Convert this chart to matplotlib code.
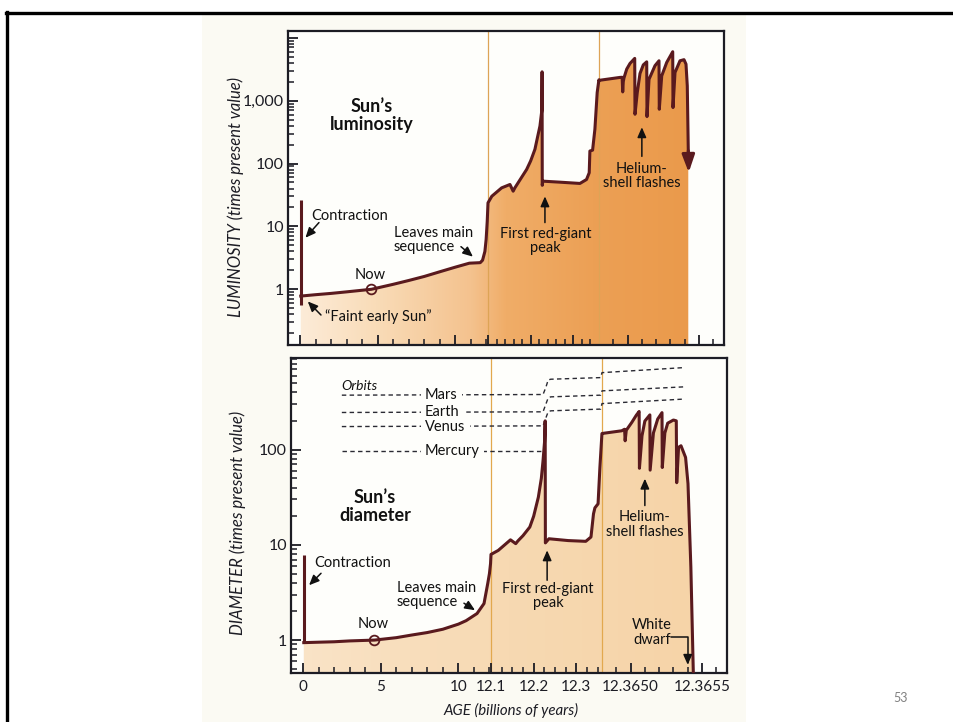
import numpy as np
import matplotlib
matplotlib.use("Agg")
import matplotlib.pyplot as plt
from matplotlib.colors import LinearSegmentedColormap
from matplotlib.patches import Rectangle
from matplotlib.lines import Line2D
from matplotlib.ticker import FixedLocator, FixedFormatter, LogLocator, NullFormatter

plt.rcParams['font.family'] = ['Lato', 'DejaVu Sans']

# ---------------- data ----------------
x_ticks = [0, 5, 10, 12.1, 12.2, 12.3, 12.3650, 12.3655]
x_tick_labels = ['0', '5', '10', '12.1', '12.2', '12.3', '12.3650', '12.3655']

lum_ticks = [1, 10, 100, 1000, 10000]
lum_tick_labels = ['1', '10', '100', '1,000', '']
dia_ticks = [1, 10, 100]
dia_tick_labels = ['1', '10', '100']

contraction_age = 0.05
lum_contraction = [26.0, 0.56]
dia_contraction = [7.9, 0.94]

now_age = 4.6
now_value = 1.0

# Sun's luminosity (times present value) versus age (billions of years)
lum_age = [0.05, 1.0, 2.0, 3.0, 4.6, 6.0, 7.0, 8.0, 9.0, 10.0, 10.9, 11.6, 11.75, 11.9,
           11.98, 12.05, 12.1,
           12.109, 12.132, 12.1515, 12.159, 12.163, 12.175, 12.1906, 12.2, 12.21, 12.216,
           12.2218, 12.2262, 12.2268, 12.2272, 12.2285, 12.2686, 12.3155, 12.331, 12.3373,
           12.3389, 12.3452, 12.3506, 12.356, 12.36,
           12.3648, 12.364947, 12.364962, 12.364966, 12.36497, 12.364975, 12.364994,
           12.365017, 12.36505, 12.365052, 12.365068, 12.365087, 12.36511, 12.365134,
           12.365136, 12.36515, 12.365192, 12.36522, 12.365222, 12.365239, 12.365274,
           12.365316, 12.365318, 12.365332, 12.365367, 12.365395, 12.365409, 12.365418,
           12.365425]
lum_val = [0.78, 0.82, 0.86, 0.91, 1.0, 1.2, 1.38, 1.6, 1.9, 2.25, 2.6, 2.65, 2.9, 4.0,
           6.2, 12.0, 23.7,
           30.2, 41, 46.4, 36.3, 41, 55, 80.5, 110, 168, 260,
           395, 700, 2870, 45, 52.4, 50.5, 48.2, 55.7, 71.3,
           158, 163, 350, 1346, 2140,
           2100, 2340, 2350, 1376, 2000, 2300, 3170,
           3900, 4690, 607, 1350, 2700, 3700, 4140,
           557, 2180, 3600, 4300, 729, 2475, 4050,
           5990, 776, 2800, 4300, 4480, 3800, 1715,
           160]
lum_arrow_tip = 72

# Sun's diameter (times present value) versus age (billions of years)
dia_age = [0.05, 1.0, 2.0, 3.0, 4.6, 6.0, 7.0, 8.0, 9.0, 10.0, 10.5, 11.2, 11.65, 11.89,
           12.0, 12.07, 12.1,
           12.117, 12.1457, 12.158, 12.163, 12.175, 12.191, 12.2, 12.211, 12.218, 12.222,
           12.2255, 12.227, 12.2275, 12.2358, 12.281, 12.3222, 12.3344, 12.3403, 12.3436,
           12.351, 12.3553, 12.36,
           12.3648, 12.364938, 12.364958, 12.364962, 12.36497, 12.365008, 12.36504,
           12.36506, 12.365062, 12.36508, 12.3651, 12.365135, 12.365137, 12.36516,
           12.36519, 12.36522, 12.365222, 12.36524, 12.36526, 12.3653, 12.36532,
           12.365323, 12.365336, 12.365353, 12.365385, 12.365402, 12.365422, 12.365442]
dia_val = [0.94, 0.95, 0.96, 0.98, 1.0, 1.06, 1.13, 1.2, 1.3, 1.47, 1.6, 1.9, 2.42, 3.93,
           5.0, 6.35, 7.94,
           8.75, 11.3, 10.3, 11.0, 12.5, 15.4, 20, 31.7, 50, 76.7,
           120, 201, 10.5, 11.6, 11.1, 10.9, 12.1, 21.2, 24.5,
           27, 65, 146,
           148, 158, 164, 124, 160, 193, 230,
           252, 63.8, 140, 200, 232, 61, 150,
           210, 245, 65, 150, 190, 205, 201,
           45, 106, 110, 83, 44, 5.85, 0.3]

# Planetary orbits (in units of the present solar diameter)
orbit_age = [2.5, 12.222, 12.2285, 12.234, 12.24, 12.357, 12.3648, 12.36537]
mars_orbit = [374, 380, 450, 540, 550, 572, 645, 728]
earth_orbit = [246, 250, 300, 350, 359, 374, 415, 457]
venus_orbit = [175, 178, 215, 250, 256, 267, 305, 340]
mercury_age = [2.5, 12.2225]
mercury_orbit = [97.7, 97.7]
planet_names = ['Mars', 'Earth', 'Venus', 'Mercury']

# ---------------- broken age axis ----------------
AGE_KNOTS = [-0.772, 0.0, 12.1, 12.36, 12.3648, 12.3655, 12.365675]
POS_KNOTS = [0.0, 12.0, 200.0, 310.9, 311.0, 411.0, 436.0]


def age_to_pos(a):
    return np.interp(a, AGE_KNOTS, POS_KNOTS)


def pos_to_age(u):
    return np.interp(u, POS_KNOTS, AGE_KNOTS)


minor_top = ([v for v in range(1, 13)] + list(np.arange(12.12, 12.355, 0.02)) +
             list(np.arange(12.3649, 12.36567, 0.0001)))
minor_bot = ([v for v in range(1, 13)] + list(np.arange(12.125, 12.355, 0.025)) +
             list(np.arange(12.3649, 12.36567, 0.0001)))

MAROON = '#5a1a1e'
INK = '#1c1c24'
PAGE = '#fbfaf3'
PLOT_BG = '#fefefb'

W, H = 954, 722


def fx(px):
    return px / W


def fy(py):
    return 1 - py / H


fig = plt.figure(figsize=(9.54, 7.22), dpi=100)
fig.patch.set_facecolor('white')

# slide frame and page backdrop
fig.add_artist(Rectangle((fx(202), 0), fx(746) - fx(202), fy(15), facecolor=PAGE,
                         edgecolor='none', zorder=-5))
fig.add_artist(Line2D([fx(6), 1], [fy(12.5), fy(12.5)], color='black', lw=2.4, zorder=-4))
fig.add_artist(Line2D([fx(7), fx(7)], [0, fy(12)], color='black', lw=2.4, zorder=-4))

ax1 = fig.add_axes([fx(288), fy(345), (724 - 288) / W, (345 - 31) / H])
ax2 = fig.add_axes([fx(291), fy(673), (727 - 291) / W, (673 - 358) / H])


def style_axes(ax, ylim, yticks, ylabels, minor_x, show_x):
    ax.set_xscale('function', functions=(age_to_pos, pos_to_age))
    ax.set_yscale('log')
    ax.set_facecolor(PLOT_BG)
    ax.xaxis.set_major_locator(FixedLocator(x_ticks))
    ax.xaxis.set_major_formatter(FixedFormatter(x_tick_labels))
    ax.xaxis.set_minor_locator(FixedLocator(minor_x))
    ax.xaxis.set_minor_formatter(NullFormatter())
    ax.yaxis.set_major_locator(FixedLocator(yticks))
    ax.yaxis.set_major_formatter(FixedFormatter(ylabels))
    ax.yaxis.set_minor_locator(LogLocator(base=10, subs=np.arange(2, 10)))
    ax.yaxis.set_minor_formatter(NullFormatter())
    ax.tick_params(which='both', direction='in', color=INK, top=False, right=False)
    ax.tick_params(which='major', length=7, width=1.3)
    ax.tick_params(which='minor', length=4, width=1.1)
    ax.tick_params(axis='x', labelsize=11, labelcolor=INK, pad=5, labelbottom=show_x)
    ax.tick_params(axis='y', labelsize=11.5, labelcolor=INK, pad=3)
    for s in ax.spines.values():
        s.set_color(INK)
        s.set_linewidth(1.6)
    ax.set_xlim(AGE_KNOTS[0], AGE_KNOTS[-1])
    ax.set_ylim(*ylim)


def gradient_fill(ax, x, y, y0, colors):
    coll = ax.fill_between(x, y, y0, facecolor='none', edgecolor='none')
    path = coll.get_paths()[0]
    cmap = LinearSegmentedColormap.from_list('fill', colors)
    grad = np.linspace(0, 1, 512).reshape(1, -1)
    im = ax.imshow(grad, cmap=cmap, aspect='auto', extent=[0, 1, 0, 1],
                   transform=ax.transAxes, interpolation='bilinear', zorder=1)
    im.set_clip_path(path, ax.transData)


ARROW = dict(arrowstyle='-|>,head_length=0.5,head_width=0.22', color='#111111', lw=1.1,
             mutation_scale=12, shrinkA=0, shrinkB=0)
TXT = dict(fontsize=10.5, color='#111')

# ---------------- luminosity panel ----------------
gradient_fill(ax1, lum_age, lum_val, 0.01,
              [(0.0, '#fdeedd'), (0.2, '#f9dcb8'), (0.42, '#f4c28e'), (0.5, '#f0ad68'),
               (0.7, '#eca055'), (1.0, '#ea9848')])
for a in (12.1, 12.3648):
    ax1.axvline(a, color='#dda456', lw=0.9, zorder=1.5)
ax1.plot([contraction_age, contraction_age], lum_contraction, color=MAROON, lw=2.2,
         zorder=3, solid_capstyle='butt')
ax1.plot(lum_age, lum_val, color=MAROON, lw=2.2, zorder=3, solid_joinstyle='round')
ax1.annotate('', xy=(lum_age[-1] + 0.000003, lum_arrow_tip), xytext=(lum_age[-1], lum_val[-1]),
             arrowprops=dict(arrowstyle='-|>,head_length=0.75,head_width=0.27', color=MAROON,
                             lw=2.2, mutation_scale=14, shrinkA=0, shrinkB=0), zorder=3)
ax1.plot([now_age], [now_value], 'o', ms=7, mfc='none', mec=MAROON, mew=1.3, zorder=4)

style_axes(ax1, (0.13, 12800), lum_ticks, lum_tick_labels, minor_top, False)
ax1.set_ylabel('LUMINOSITY (times present value)', fontsize=12, style='italic', color=INK)
ax1.yaxis.set_label_coords(-0.10, 0.47)

ax1.text(4.63, 585, 'Sun’s\nluminosity', ha='center', va='center', fontsize=13,
         fontweight='bold', color='#111', linespacing=1.1)
ax1.text(0.74, 14.9, 'Contraction', ha='left', va='center', **TXT)
ax1.annotate('', xy=(0.35, 6.6), xytext=(1.22, 11.5), arrowprops=ARROW)
ax1.text(1.58, 0.37, '“Faint early Sun”', ha='left', va='center', **TXT)
ax1.annotate('', xy=(0.5, 0.64), xytext=(1.35, 0.39), arrowprops=ARROW)
ax1.text(4.5, 1.7, 'Now', ha='center', va='center', **TXT)
ax1.text(6.05, 6.05, 'Leaves main\nsequence', ha='left', va='center', linespacing=1.05, **TXT)
ax1.annotate('', xy=(11.13, 3.3), xytext=(10.36, 4.76), arrowprops=ARROW)
ax1.text(12.2347, 5.83, 'First red-giant\npeak', ha='center', va='center', linespacing=1.05,
         **TXT)
ax1.annotate('', xy=(12.2335, 30), xytext=(12.2335, 11.5), arrowprops=ARROW)
ax1.text(12.3651, 63.4, 'Helium-\nshell flashes', ha='center', va='center', linespacing=1.05,
         **TXT)
ax1.annotate('', xy=(12.3651, 377), xytext=(12.3651, 130), arrowprops=ARROW)

# ---------------- diameter panel ----------------
gradient_fill(ax2, dia_age, dia_val, 0.01,
              [(0.0, '#fae4c8'), (0.5, '#f7d9b2'), (1.0, '#f6d3a6')])
for a in (12.1, 12.3648):
    ax2.axvline(a, color='#e2a84e', lw=0.9, zorder=1.5)

dash = dict(color='#2a2a33', lw=1.0, dashes=(3.2, 2.4), zorder=2)
for orbit in (mars_orbit, earth_orbit, venus_orbit):
    ax2.plot(orbit_age, orbit, **dash)
ax2.plot(mercury_age, mercury_orbit, **dash)

ax2.plot([contraction_age, contraction_age], dia_contraction, color=MAROON, lw=2.2,
         zorder=3, solid_capstyle='butt')
ax2.plot(dia_age, dia_val, color=MAROON, lw=2.2, zorder=3, solid_joinstyle='round')
ax2.plot([now_age], [now_value], 'o', ms=7, mfc='none', mec=MAROON, mew=1.3, zorder=4)

style_axes(ax2, (0.451, 919), dia_ticks, dia_tick_labels, minor_bot, True)
ax2.set_ylabel('DIAMETER (times present value)', fontsize=12, style='italic', color=INK)
ax2.yaxis.set_label_coords(-0.104, 0.476)

# planet names sit in gaps of their dashed orbit lines
label_box = dict(boxstyle='square,pad=0.3', facecolor=PLOT_BG, edgecolor='none')
ax2.text(2.45, 468, 'Orbits', ha='left', va='center', fontsize=10, style='italic', color='#111')
for name, orbit in zip(planet_names, (mars_orbit, earth_orbit, venus_orbit, mercury_orbit)):
    ax2.text(7.85, orbit[0], name, ha='left', va='center', fontsize=10.5,
             color=(0, 0, 0, 0), bbox=label_box, zorder=2.4)
    ax2.text(7.85, orbit[0], name, ha='left', va='center', zorder=2.6, **TXT)

ax2.text(4.63, 25.3, 'Sun’s\ndiameter', ha='center', va='center', fontsize=13,
         fontweight='bold', color='#111', linespacing=1.1)
ax2.text(0.71, 6.4, 'Contraction', ha='left', va='center', **TXT)
ax2.annotate('', xy=(0.39, 3.77), xytext=(1.16, 5.03), arrowprops=ARROW)
ax2.text(4.5, 1.47, 'Now', ha='center', va='center', **TXT)
ax2.text(6.02, 2.96, 'Leaves main\nsequence', ha='left', va='center', linespacing=1.05, **TXT)
ax2.annotate('', xy=(11.07, 2.06), xytext=(10.36, 2.44), arrowprops=ARROW)
ax2.text(12.2335, 2.92, 'First red-giant\npeak', ha='center', va='center', linespacing=1.05,
         **TXT)
ax2.annotate('', xy=(12.2316, 8.76), xytext=(12.2316, 4.25), arrowprops=ARROW)
ax2.text(12.3651, 16.4, 'Helium-\nshell flashes', ha='center', va='center', linespacing=1.05,
         **TXT)
ax2.annotate('', xy=(12.3651, 49.6), xytext=(12.3651, 25.9), arrowprops=ARROW)
ax2.text(12.36515, 1.2, 'White\ndwarf', ha='center', va='center', linespacing=1.05, **TXT)
ax2.annotate('', xy=(12.3654, 0.55), xytext=(12.365283, 1.075),
             arrowprops=dict(ARROW, connectionstyle='angle,angleA=0,angleB=90,rad=0'))

fig.text(fx(511), fy(710), 'AGE (billions of years)', ha='center', va='center',
         fontsize=10.8, style='italic', color=INK)
fig.text(fx(901), fy(698), '53', ha='center', va='center', fontsize=9, color='#808080')

fig.savefig('out.png', dpi=100)
